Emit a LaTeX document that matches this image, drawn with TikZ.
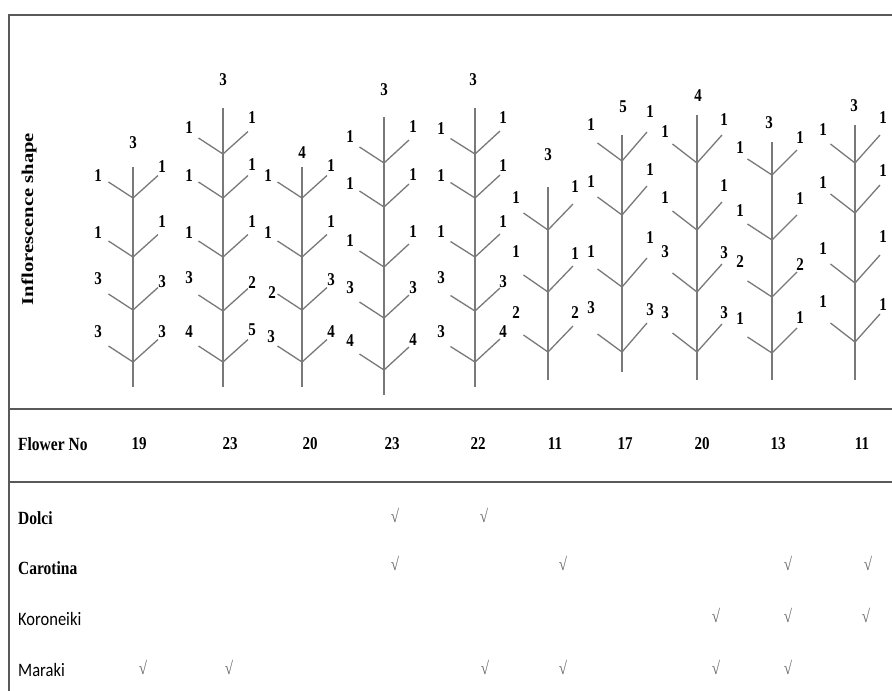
\documentclass[tikz,border=0pt]{standalone}
\usepackage{fontspec}
\setmainfont{Liberation Serif}
\newfontfamily\calib{Carlito}
\newcommand{\tx}[1]{\scalebox{1}[1.2]{\bfseries #1}}
\newcommand{\olivetree}[6]{%
  \draw[stemline] (#1,#2) -- (#1,#3);
  \foreach \j in {#4} {\draw[stemline] (#1-24.5,\j-#5) -- (#1,\j) -- (#1+25,\j-#6);}
}
\tikzset{
  stemline/.style={draw=gray!95!black, line width=1.3pt},
  frameline/.style={draw=gray!70!black, line width=1.8pt},
  lbl/.style={inner sep=0pt, font=\fontsize{15}{18}\selectfont},
  rowlbl/.style={inner sep=0pt, anchor=west, font=\fontsize{15.5}{18}\selectfont},
  chk/.style={inner sep=0pt, text=gray!80!black, font=\fontsize{15}{18}\selectfont}
}
\begin{document}
\begin{tikzpicture}[x=1pt,y=-1pt]
\useasboundingbox[fill=white] (0,0) rectangle (892,691);
% frame
\draw[frameline] (9,691) -- (9,15) -- (892,15);
\draw[frameline] (9,409) -- (892,409);
\draw[frameline] (9,482) -- (892,482);
% trees
\olivetree{133}{167}{387}{198,257,310,362}{16}{22.5}
\olivetree{223}{108}{387}{154,198,257,311,362}{16}{22.5}
\olivetree{302}{167}{387}{198,257,310,362}{16}{22.5}
\olivetree{384}{117}{395}{163,207,267,318,370}{16}{23}
\olivetree{475}{108}{387}{154,198,257,311,362}{15.5}{23}
\olivetree{548}{187}{380}{230,292,352}{17}{26}
\olivetree{622}{135}{372}{161,215,287,352}{18}{29}
\olivetree{697}{115}{380}{163,230,292,352}{19}{28}
\olivetree{772}{142}{380}{175,240,297,353}{16}{25}
\olivetree{855}{125}{380}{163,213,283,342}{19}{28}
% tree labels
\foreach \x/\y/\t [count=\i] in {
 133/143/3, 98/176/1, 98/233/1, 98/279/3, 98/332/3, 162/167/1, 162/222/1, 162/282/3, 162/332/3,
 223/80/3, 189/128/1, 189/176/1, 189/233/1, 189/278/3, 189/332/4, 252/118/1, 252/165/1, 252/222/1, 252/283/2, 252/330/5,
 302/153/4, 268/176/1, 268/233/1, 272/293/2, 271/337/3, 331/166/1, 331/222/1, 331/280/3, 331/332/4,
 384/90/3, 350/137/1, 350/184/1, 350/241/1, 350/288/3, 350/341/4, 413/127/1, 413/175/1, 413/232/1, 413/288/3, 413/340/4,
 473/80/3, 441/129/1, 441/176/1, 441/232/1, 441/278/3, 441/332/3, 503/118/1, 503/166/1, 503/222/1, 503/282/3, 503/332/4,
 548/155/3, 516/198/1, 516/252/1, 516/313/2, 575/187/1, 575/254/1, 575/313/2,
 623/107/5, 591/125/1, 591/182/1, 591/252/1, 591/308/3, 650/112/1, 650/170/1, 650/238/1, 650/310/3,
 698/96/4, 665/132/1, 665/198/1, 665/252/3, 665/313/3, 724/120/1, 724/186/1, 724/253/3, 724/313/3,
 769/123/3, 740/148/1, 740/211/1, 740/262/2, 740/319/1, 800/138/1, 800/199/1, 800/265/2, 800/318/1,
 854/106/3, 823/130/1, 823/183/1, 823/249/1, 823/302/1, 883/118/1, 883/171/1, 883/237/1, 883/305/1}
 {\node[lbl] (tl\i) at (\x,\y) {\tx{\t}};}
% side title
\node[inner sep=0pt, font=\fontsize{16.5}{18}\selectfont] (title) at (29,219)
  {\rotatebox{90}{\scalebox{1.25}[1]{\bfseries Inflorescence shape}}};
% flower number row
\node[rowlbl] (fno) at (18,444) {\tx{Flower No}};
\foreach \x/\t [count=\i] in {139/19,230/23,310/20,392/23,478/22,555/11,625/17,702/20,778/13,862/11}
 {\node[lbl] (fn\i) at (\x,444) {\tx{\t}};}
% cultivar rows
\node[rowlbl] (dolci) at (18,518) {\tx{Dolci}};
\node[rowlbl] (carot) at (18,568) {\tx{Carotina}};
\node[rowlbl, font=\calib\fontsize{16.5}{18}\selectfont] (koro) at (18,619) {\scalebox{1}[1.15]{Koroneiki}};
\node[rowlbl, font=\calib\fontsize{16.5}{18}\selectfont] (mara) at (18,670) {\scalebox{1}[1.15]{Maraki}};
% check marks
\foreach \x/\y [count=\i] in {395/515, 484/515,
  395/563, 563/563, 788/563, 868/563,
  716/615, 788/615, 866/615,
  143/667, 229/667, 485/667, 563/667, 716/667, 788/667}
 {\node[chk] (ck\i) at (\x,\y) {\scalebox{1}[1.2]{√}};}
\end{tikzpicture}
\end{document}
